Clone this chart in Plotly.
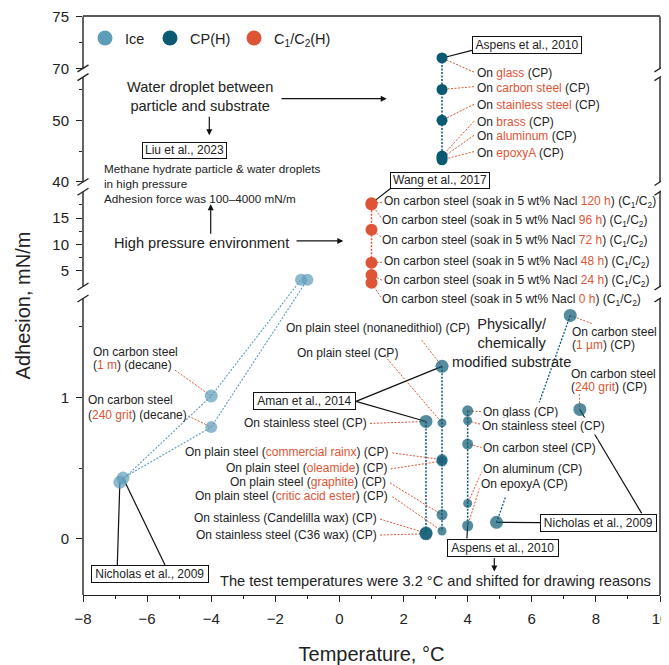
import numpy as np
import plotly.graph_objects as go

# ---------------- data ----------------
# Ice (Nicholas et al., 2009; decane)
ice_temp = [-6.85, -6.75, -4.0, -4.0, -1.2, -1.0]
ice_adh = [0.40, 0.43, 1.01, 0.79, 3.3, 3.3]
ice_chain_a = [0, 2, 4]
ice_chain_b = [1, 3, 5]

# CP(H), Aspens et al., 2010 - water droplet between particle and substrate
asp_top_sub = ["glass", "carbon steel", "stainless steel", "brass", "aluminum", "epoxyA"]
asp_top_temp = [3.2, 3.2, 3.2, 3.2, 3.2, 3.2]
asp_top_adh = [71.0, 55.0, 50.0, 44.2, 43.9, 43.6]

# C1/C2(H), Wang et al., 2017 - high pressure, carbon steel soaked in NaCl
wang_soak = ["120 h", "96 h", "72 h", "48 h", "24 h", "0 h"]
wang_temp = [1.0, 1.0, 1.0, 1.0, 1.0, 1.0]
wang_adh = [17.8, 17.6, 12.8, 6.5, 4.2, 2.7]

# CP(H) shifted to 2.7 °C
cp27_temp = [2.7, 2.7, 2.7]
cp27_adh = [0.83, 0.04, 0.035]

# CP(H) at 3.2 °C
cp32_temp = [3.2, 3.2, 3.2, 3.2, 3.2, 3.2]
cp32_adh = [1.22, 0.82, 0.56, 0.55, 0.17, 0.055]

# CP(H), Aspens et al., 2010 (shifted to 4 °C)
asp_bot_sub = ["glass", "stainless steel", "carbon steel", "aluminum", "epoxyA"]
asp_bot_temp = [4.0, 4.0, 4.0, 4.0, 4.0]
asp_bot_adh = [0.905, 0.835, 0.67, 0.25, 0.092]

# CP(H), Nicholas et al., 2009
nich_temp = [4.9, 7.2, 7.5]
nich_adh = [0.116, 1.58, 0.915]

x_tick_vals = [-8, -6, -4, -2, 0, 2, 4, 6, 8, 10]
y_tick_vals = [0, 1, 5, 10, 15, 40, 50, 70, 75]
y_minor_vals = [0.5, 1.5, 7.5, 12.5, 17.5, 45, 55, 72.5]

# ---------------- styles ----------------
ICE = "#5E9DBA"
CP = "#0B5A73"
RED = "#DD5536"
TXT = "#222222"
AX = "#222222"
FONT = "Liberation Sans, Arial, Helvetica, sans-serif"
DOT = "2px,1.5px"

# the page body has an 8 px margin, so the figure is 8 px smaller and offset
OFF = 8
W, H = 669 - OFF, 665 - OFF
PAGE_L, PAGE_R, PAGE_T, PAGE_B = 83, 660, 16, 595   # plot area in page pixels
ML, MT = PAGE_L - OFF, PAGE_T - OFF
MR, MB = (W + OFF) - PAGE_R, (H + OFF) - PAGE_B
PW = PAGE_R - PAGE_L
X_MIN, X_MAX = -8, 10

# broken y axis: (value0, value1, page-pixel0, page-pixel1) for each drawn piece
SEGS = [(-0.4, 1.7, 595.3, 298.3),
        (2.0, 20.0, 286.3, 191.5),
        (40.0, 57.0, 181.7, 76.8),
        (70.0, 75.0, 68.0, 16.0)]


def yd(v):
    for v0, v1, p0, p1 in SEGS:
        if v0 - 1e-9 <= v <= v1 + 1e-9:
            return -(p0 + (v - v0) * (p1 - p0) / (v1 - v0))
    raise ValueError(v)


def X(px):
    return X_MIN + (px - PAGE_L) * (X_MAX - X_MIN) / PW


def red(s):
    return f'<span style="color:{RED}">{s}</span>'


fig = go.Figure()


def lines(xs, ys, color, width=1.3):
    fig.add_trace(go.Scatter(x=list(xs), y=[yd(v) for v in ys], mode="lines",
                             line=dict(color=color, width=width, dash=DOT),
                             showlegend=False, hoverinfo="skip"))


def markers(xs, ys, color, sizes):
    fig.add_trace(go.Scatter(x=list(xs), y=[yd(v) for v in ys], mode="markers",
                             marker=dict(color=color, size=sizes, line=dict(width=0)),
                             showlegend=False, hoverinfo="skip"))


# ---- connecting dotted lines ----
lines([ice_temp[i] for i in ice_chain_a], [ice_adh[i] for i in ice_chain_a], ICE, 1.1)
lines([ice_temp[i] for i in ice_chain_b], [ice_adh[i] for i in ice_chain_b], ICE, 1.1)
lines(asp_top_temp, asp_top_adh, CP, 1.5)
lines(wang_temp, wang_adh, RED, 1.5)
lines(cp27_temp, cp27_adh, CP, 1.5)
lines(cp32_temp, cp32_adh, CP, 1.5)
lines(asp_bot_temp, asp_bot_adh, CP, 1.5)
# Nicholas CP link (partly hidden behind the labels in the original)
p0 = np.array([nich_temp[0], nich_adh[0]])
p1 = np.array([nich_temp[1], nich_adh[1]])
a = p0 + 0.12 * (p1 - p0)
b = p1 + 0.42 * (p0 - p1)
lines([p0[0], a[0]], [p0[1], a[1]], CP, 1.3)
lines([p1[0], b[0]], [p1[1], b[1]], CP, 1.3)

# ---- markers ----
markers(ice_temp, ice_adh, ICE, [13, 13, 13, 12, 12, 12])
markers(asp_top_temp, asp_top_adh, CP, 11)
markers(wang_temp, wang_adh, RED, 12)
markers(cp27_temp, cp27_adh, CP, [13, 13, 13])
markers(cp32_temp, cp32_adh, CP, [13, 9, 11, 11, 11, 9])
markers(asp_bot_temp, asp_bot_adh, CP, [11, 9, 11, 9, 11])
markers(nich_temp, nich_adh, CP, [13, 13, 13])

# ---- legend entries (one small legend each, placed like the original) ----
legend_items = [("Ice", ICE, "legend", 85),
                ("CP(H)", CP, "legend2", 150),
                ("C<sub>1</sub>/C<sub>2</sub>(H)", RED, "legend3", 234)]
for name, col, lg, _ in legend_items:
    fig.add_trace(go.Scatter(x=[None], y=[None], mode="markers", name=name, legend=lg,
                             marker=dict(color=col, size=15)))


# ---------------- helpers for annotations (page-pixel positions) ----------------
def label(px, py, text, size=12, xanchor="left", **kw):
    fig.add_annotation(x=X(px), y=-py, text=text, showarrow=False, xanchor=xanchor,
                       yanchor="middle", font=dict(size=size, color=TXT, family=FONT), **kw)


def box(cx, cy, w, h, text):
    fig.add_annotation(x=X(cx), y=-cy, text=text, showarrow=False, xanchor="center",
                       yanchor="middle", width=w - 4, height=h - 4, borderpad=1,
                       bordercolor="#111111", borderwidth=1, bgcolor="white",
                       font=dict(size=12, color=TXT, family=FONT))


def leader(px, py, xv, yv, color=RED, dash=DOT, width=1.0):
    fig.add_shape(type="line", xref="x", yref="y", x0=X(px), y0=-py, x1=xv, y1=yd(yv),
                  line=dict(color=color, width=width, dash=dash), layer="below")


def link(px, py, xv, yv):
    leader(px, py, xv, yv, color="#111111", dash="solid", width=1.2)


def arrow(tx, ty, hx, hy):
    fig.add_annotation(x=X(hx), y=-hy, ax=X(tx), ay=-ty, axref="x", ayref="y", xref="x",
                       yref="y", text="", showarrow=True, arrowhead=2, arrowsize=1,
                       arrowwidth=1.2, arrowcolor="#111111", standoff=0, startstandoff=0)


# ---- Aspens (top) ----
box(526.7, 44.2, 110, 18.3, "Aspens et al., 2010")
link(472, 50, asp_top_temp[0], asp_top_adh[0])
asp_top_ly = [72.7, 87.3, 105, 122, 136, 152.3]
for i, s in enumerate(asp_top_sub):
    label(475, asp_top_ly[i], "On " + red(s) + " (CP)")
    leader(474, asp_top_ly[i] - 1, asp_top_temp[i], asp_top_adh[i])

# ---- Wang ----
box(440, 180, 100, 16.7, "Wang et al., 2017")
link(391.7, 187.3, wang_temp[0], wang_adh[0])
wang_lx = [381.5, 380, 380, 381.5, 381.5, 380]
wang_ly = [201.7, 221, 240.7, 261.7, 281, 300]
wang_end = [(382, 202), (381, 217), (381, 236.5), (382, 262), (382, 280), (381, 297)]
for i, s in enumerate(wang_soak):
    label(wang_lx[i], wang_ly[i],
          "On carbon steel (soak in 5 wt% Nacl " + red(s) + ") (C<sub>1</sub>/C<sub>2</sub>)")
    leader(wang_end[i][0], wang_end[i][1], wang_temp[i], wang_adh[i])

# ---- Liu / notes ----
box(184.2, 150, 85, 16.7, "Liu et al., 2023")
label(101.5, 168.3, "Methane hydrate particle &amp; water droplets", size=11.7)
label(101.5, 183.3, "in high pressure", size=11.7)
label(101.5, 198.3, "Adhesion force was 100\u20134000 mN/m", size=11.7)
fig.add_annotation(x=X(200), y=-96.2, text="Water droplet between<br>particle and substrate",
                   showarrow=False, xanchor="center", yanchor="middle", align="center",
                   font=dict(size=14.6, color=TXT, family=FONT))
label(201.7, 243, "High pressure environment", size=14.6, xanchor="center")
arrow(280, 98.3, 386.7, 98.3)
arrow(209.3, 115, 209.3, 135)
arrow(295, 240.7, 343.3, 240.7)
arrow(210.7, 235, 210.7, 204)

# ---- Aman et al. 2014 group ----
box(304.7, 401.2, 102.7, 17.7, "Aman et al., 2014")
link(356, 401.2, cp32_temp[0], cp32_adh[0])
link(356, 401.2, cp27_temp[0], cp27_adh[0])

label(284, 328.3, "On plain steel (nonanedithiol) (CP)")
leader(421.7, 340, cp32_temp[0], cp32_adh[0])
label(294.7, 353.3, "On plain steel (CP)")
leader(385, 356, cp32_temp[1], cp32_adh[1])
label(368.5, 423.3, "On stainless steel (CP)", xanchor="right")
leader(370, 423.3, cp27_temp[0], cp27_adh[0])

cp32_texts = ["On plain steel (" + red("commercial rainx") + ") (CP)",
              "On plain steel (" + red("oleamide") + ") (CP)",
              "On plain steel (" + red("graphite") + ") (CP)",
              "On plain steel (" + red("critic acid ester") + ") (CP)"]
cp32_ly = [452.3, 468.3, 482.3, 496]
cp32_rx = [390.3, 388.7, 388, 390.3]
for k, t in enumerate(cp32_texts):
    label(cp32_rx[k], cp32_ly[k], t, xanchor="right")
    leader(cp32_rx[k] + 2, cp32_ly[k] + 0.5, cp32_temp[k + 2], cp32_adh[k + 2])

label(378.7, 518.3, "On stainless (Candelilla wax) (CP)", xanchor="right")
leader(380, 519, cp27_temp[1], cp27_adh[1])
label(378.7, 535, "On stainless steel (C36 wax) (CP)", xanchor="right")
leader(380, 535, cp27_temp[2], cp27_adh[2])

# ---- Aspens (bottom) ----
asp_bot_lx = [480.7, 479.7, 481.3, 481.3, 478.7]
asp_bot_ly = [412, 426, 448.3, 469.3, 484.3]
asp_bot_end = [(481, 411.5), (480, 424), (482, 447.5), (482, 471), (479.5, 488)]
for i, s in enumerate(asp_bot_sub):
    label(asp_bot_lx[i], asp_bot_ly[i], "On " + s + " (CP)", bgcolor="white")
    leader(asp_bot_end[i][0], asp_bot_end[i][1], asp_bot_temp[i], asp_bot_adh[i])
box(502.5, 547.5, 111.6, 18.4, "Aspens et al., 2010")
link(466.9, 538.3, asp_bot_temp[4], asp_bot_adh[4])
arrow(494.3, 556.7, 494.3, 571.5)

# ---- Nicholas (CP) ----
box(598.3, 522.5, 116.7, 18.4, "Nicholas et al., 2009")
link(540, 522.5, nich_temp[0], nich_adh[0])
link(641.7, 513.3, nich_temp[2], nich_adh[2])
label(569.7, 331.7, "On carbon steel")
label(569.7, 345, "(" + red("1 \u00b5m") + ") (CP)")
leader(591.7, 323.3, nich_temp[1], nich_adh[1])
label(568.7, 374, "On carbon steel")
label(568.7, 387.3, "(" + red("240 grit") + ") (CP)")
leader(579.3, 394, nich_temp[2], nich_adh[2])

# ---- Ice ----
label(91.3, 351.7, "On carbon steel")
label(91.3, 365, "(" + red("1 m") + ") (decane)")
leader(175, 370, ice_temp[2], ice_adh[2])
label(86.3, 400, "On carbon steel")
label(86.3, 415, "(" + red("240 grit") + ") (decane)")
leader(188.3, 416, ice_temp[3], ice_adh[3])
box(149.5, 574.2, 117.6, 18.3, "Nicholas et al., 2009")
link(117.3, 565, ice_temp[0], ice_adh[0])
link(165, 565, ice_temp[1], ice_adh[1])

# ---- other texts ----
fig.add_annotation(x=X(511.7), y=-343, text="Physically/<br>chemically<br>modified substrate",
                   showarrow=False, xanchor="center", yanchor="middle", align="center",
                   font=dict(size=14.6, color=TXT, family=FONT))
label(435.3, 581, "The test temperatures were 3.2 \u00b0C and shifted for drawing reasons",
      size=14.6, xanchor="center")

# ---------------- frame with axis breaks ----------------
for v0, v1, p0, p1 in SEGS:
    for xa in (0, 1):
        fig.add_shape(type="line", xref="paper", yref="y", x0=xa, x1=xa,
                      y0=-min(p0, PAGE_B), y1=-p1, line=dict(color=AX, width=1.4), layer="above")
fig.add_shape(type="line", xref="paper", yref="paper", x0=0, x1=1, y0=1, y1=1,
              line=dict(color=AX, width=1.4), layer="above")
ends = [SEGS[0][3], SEGS[1][2], SEGS[1][3], SEGS[2][2], SEGS[2][3], SEGS[3][2]]
for pe in ends:
    for xa in (0, 1):
        fig.add_shape(type="line", xref="paper", xsizemode="pixel", xanchor=xa,
                      x0=-5.5, x1=5.5, yref="y", y0=-(pe + 3.5), y1=-(pe - 3.5),
                      line=dict(color=AX, width=1.3), layer="above")

legend_layout = {}
for name, col, lg, lx in legend_items:
    legend_layout[lg] = dict(orientation="h", x=(lx - PAGE_L) / PW, xanchor="left",
                             y=0.9896, yanchor="top",
                             font=dict(size=14.5, color=TXT, family=FONT),
                             bgcolor="rgba(0,0,0,0)", itemsizing="trace")

fig.update_layout(
    width=W, height=H,
    margin=dict(l=ML, r=MR, t=MT, b=MB, autoexpand=False),
    paper_bgcolor="white", plot_bgcolor="rgba(0,0,0,0)",
    font=dict(family=FONT, color=TXT),
    hovermode=False,
    xaxis=dict(range=[X_MIN, X_MAX], tickvals=x_tick_vals, ticks="outside", ticklen=6,
               tickwidth=1.2, tickcolor=AX, showline=True, linecolor=AX, linewidth=1.4,
               showgrid=False, zeroline=False, tickfont=dict(size=15, color=TXT),
               ticklabelstandoff=4, ticklabeloverflow="allow",
               minor=dict(dtick=1, tick0=0, ticks="outside", ticklen=3, tickcolor=AX,
                          tickwidth=1.1, showgrid=False),
               title=dict(text="Temperature, \u00b0C", font=dict(size=20, color=TXT), standoff=20),
               automargin=False),
    yaxis=dict(range=[-PAGE_B, -PAGE_T + 0.4], tickvals=[yd(v) for v in y_tick_vals],
               ticktext=[str(v) for v in y_tick_vals], ticks="outside", ticklen=6,
               tickwidth=1.2, tickcolor=AX, showline=False, showgrid=False, zeroline=False,
               tickfont=dict(size=15, color=TXT), ticklabelstandoff=4,
               ticklabeloverflow="allow",
               minor=dict(tickvals=[yd(v) for v in y_minor_vals], ticks="outside", ticklen=3,
                          tickcolor=AX, tickwidth=1.1, showgrid=False),
               title=dict(text="Adhesion, mN/m", font=dict(size=20, color=TXT), standoff=16),
               automargin=False),
    **legend_layout,
)

fig.write_html("out.html")
